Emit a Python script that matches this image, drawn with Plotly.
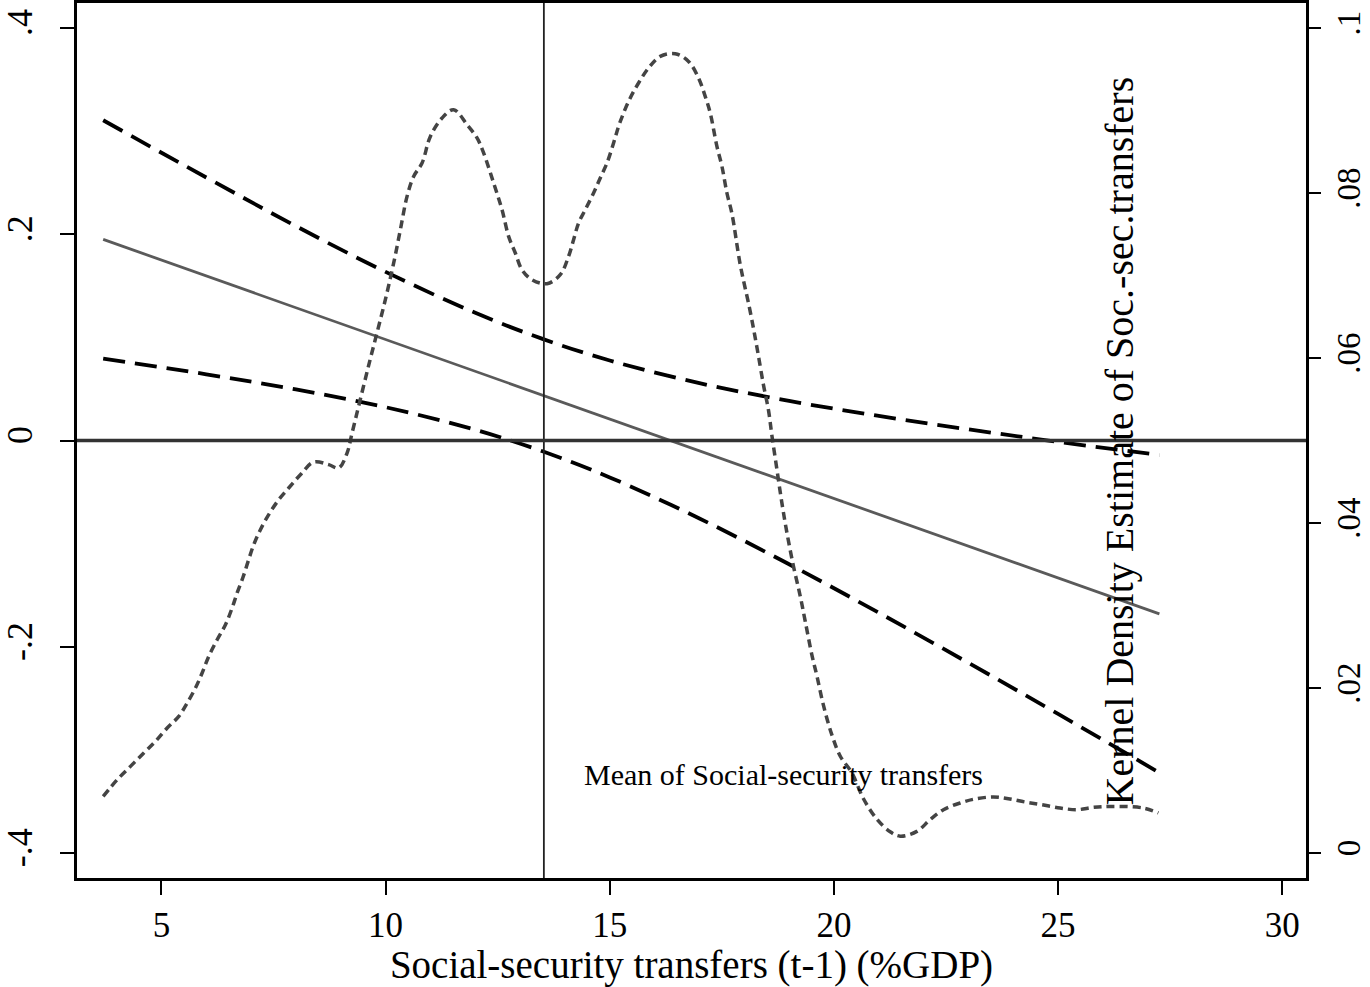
import plotly.graph_objects as go

# Marginal effect of the interaction along social-security transfers (t-1, %GDP)
x_grid = [3.7, 6, 8, 10, 12, 13.5, 15, 17, 19, 21, 23, 25, 27.26]
effect = [0.195, 0.1596, 0.1287, 0.0979, 0.0671, 0.0440, 0.0209, -0.0100,
          -0.0408, -0.0716, -0.1024, -0.1332, -0.1681]
ci_upper = [0.3105, 0.2550, 0.2079, 0.1635, 0.1238, 0.0985, 0.0776, 0.0556,
            0.0384, 0.0238, 0.0108, -0.0013, -0.0141]
ci_lower = [0.0795, 0.0642, 0.0495, 0.0323, 0.0104, -0.0105, -0.0358, -0.0756,
            -0.1200, -0.1670, -0.2156, -0.2651, -0.3221]

# Kernel density estimate of social-security transfers (right axis)
kde_x = [3.700, 4.012, 4.309, 4.605, 4.866, 5.127, 5.386, 5.573, 5.758, 5.907,
         6.055, 6.242, 6.427, 6.576, 6.688, 6.813, 6.933, 7.058, 7.207, 7.392,
         7.615, 7.838, 8.099, 8.396, 8.730, 8.953, 9.140, 9.252, 9.615, 9.994,
         10.180, 10.329, 10.478, 10.625, 10.813, 10.998, 11.259, 11.517, 11.816,
         12.039, 12.186, 12.409, 12.596, 12.744, 12.893, 13.042, 13.265, 13.600,
         13.896, 14.081, 14.193, 14.304, 14.454, 14.639, 14.788, 14.938, 15.085,
         15.196, 15.308, 15.457, 15.642, 15.865, 16.126, 16.460, 16.757, 16.980,
         17.129, 17.241, 17.390, 17.502, 17.613, 17.725, 17.910, 18.123, 18.282,
         18.429, 18.541, 18.617, 18.728, 18.840, 18.951, 19.098, 19.247, 19.359,
         19.508, 19.620, 19.767, 19.954, 20.139, 20.400, 20.659, 20.958, 21.254,
         21.477, 21.850, 22.146, 22.443, 22.815, 23.149, 23.557, 23.892, 24.264,
         24.637, 25.045, 25.417, 25.787, 26.159, 26.902, 27.236]
kde_y = [0.00686, 0.00888, 0.01050, 0.01212, 0.01353, 0.01515, 0.01656, 0.01818,
         0.02000, 0.02182, 0.02383, 0.02585, 0.02767, 0.02970, 0.03152, 0.03333,
         0.03535, 0.03737, 0.03919, 0.04101, 0.04282, 0.04424, 0.04585, 0.04739,
         0.04707, 0.04667, 0.04848, 0.05091, 0.05895, 0.06707, 0.07152, 0.07555,
         0.07959, 0.08201, 0.08364, 0.08686, 0.08909, 0.09010, 0.08828, 0.08667,
         0.08485, 0.08121, 0.07798, 0.07474, 0.07273, 0.07070, 0.06949, 0.06901,
         0.07010, 0.07232, 0.07434, 0.07636, 0.07798, 0.08000, 0.08182, 0.08364,
         0.08606, 0.08807, 0.08970, 0.09152, 0.09333, 0.09515, 0.09656, 0.09688,
         0.09595, 0.09394, 0.09171, 0.08970, 0.08565, 0.08323, 0.08000, 0.07749,
         0.07131, 0.06590, 0.06131, 0.05672, 0.05365, 0.05058, 0.04650, 0.04241,
         0.03884, 0.03475, 0.03118, 0.02811, 0.02402, 0.02147, 0.01789, 0.01432,
         0.01176, 0.00972, 0.00658, 0.00410, 0.00257, 0.00204, 0.00262, 0.00404,
         0.00525, 0.00606, 0.00655, 0.00679, 0.00658, 0.00618, 0.00585, 0.00545,
         0.00525, 0.00553, 0.00565, 0.00545, 0.00485]

mean_transfers = 13.53

x_ticks = [5, 10, 15, 20, 25, 30]
y_ticks = [-0.4, -0.2, 0, 0.2, 0.4]
y_tick_text = ["-.4", "-.2", "0", ".2", ".4"]
y2_ticks = [0, 0.02, 0.04, 0.06, 0.08, 0.1]
y2_tick_text = ["0", ".02", ".04", ".06", ".08", ".1"]

FONT = "Liberation Serif"

fig = go.Figure()

fig.add_trace(go.Scatter(
    x=kde_x, y=kde_y, yaxis="y2", mode="lines", line_shape="spline",
    line=dict(color="#444444", width=3.5, dash="8px,5px"), hoverinfo="skip"))

fig.add_trace(go.Scatter(
    x=x_grid, y=ci_upper, mode="lines", line_shape="spline",
    line=dict(color="black", width=3.8, dash="22px,10px")))
fig.add_trace(go.Scatter(
    x=x_grid, y=ci_lower, mode="lines", line_shape="spline",
    line=dict(color="black", width=3.8, dash="22px,10px")))
fig.add_trace(go.Scatter(
    x=x_grid, y=effect, mode="lines",
    line=dict(color="#5a5a5a", width=2.8)))

# Mean of transfers (vertical) and zero-effect reference (horizontal)
fig.add_shape(type="line", xref="x", yref="paper", x0=mean_transfers,
              x1=mean_transfers, y0=0, y1=1, layer="above",
              line=dict(color="#222222", width=1.8))
fig.add_shape(type="line", xref="paper", yref="y", x0=0, x1=1, y0=0, y1=0,
              layer="above", line=dict(color="#333333", width=3.5))

fig.add_annotation(x=14.38, y=-0.324, xref="x", yref="y",
                   text="Mean of Social-security transfers", showarrow=False,
                   xanchor="left", yanchor="middle",
                   font=dict(family=FONT, size=30, color="black"))
fig.add_annotation(x=26.38, y=0.5, xref="x", yref="paper",
                   text="Kernel Density Estimate of Soc.-sec.transfers",
                   showarrow=False, textangle=-90, xanchor="center",
                   yanchor="middle",
                   font=dict(family=FONT, size=40, color="black"))

axis_common = dict(showgrid=False, zeroline=False, showline=True,
                   linecolor="black", linewidth=2.5, ticks="outside",
                   tickwidth=2, tickcolor="black", automargin=False)

fig.update_layout(
    width=1370, height=987,
    margin=dict(l=77, r=64, t=3, b=109),
    paper_bgcolor="white", plot_bgcolor="white",
    showlegend=False,
    xaxis=dict(range=[3.116, 30.53], tickvals=x_ticks, mirror=True,
               ticklabelstandoff=0, ticklen=14,
               tickfont=dict(family=FONT, size=35, color="black"),
               title=dict(text="Social-security transfers (t-1) (%GDP)",
                          font=dict(family=FONT, size=39, color="black"),
                          standoff=0),
               **axis_common),
    yaxis=dict(range=[-0.4242, 0.4242], tickvals=y_ticks,
               ticktext=y_tick_text, tickangle=-90, ticklabelstandoff=14,
               ticklen=14,
               tickfont=dict(family=FONT, size=36, color="black"),
               **axis_common),
    yaxis2=dict(range=[-0.00303, 0.10303], tickvals=y2_ticks,
                ticktext=y2_tick_text, tickangle=-90, overlaying="y",
                side="right", ticklabelstandoff=0, ticklen=12,
                tickfont=dict(family=FONT, size=33, color="black"),
                **axis_common),
)

fig.write_html("out.html")
